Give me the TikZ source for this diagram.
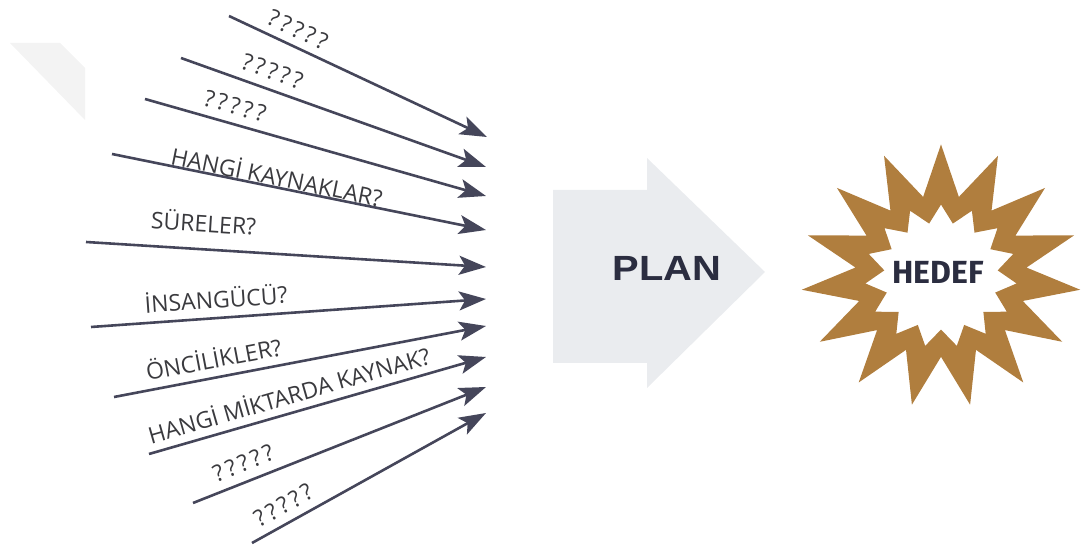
\documentclass[tikz,border=0pt]{standalone}
\usepackage{fontspec}
\setmainfont{Open Sans}
\newfontfamily\plfont{Liberation Sans}
\newfontfamily\hdfont{Fira Sans}
\newfontfamily\qmfont[LetterSpace=15]{Open Sans}
\usepackage{graphicx}
\usetikzlibrary{arrows.meta}
\definecolor{arrowcol}{HTML}{45465A}
\definecolor{txtcol}{HTML}{3A3A3E}
\definecolor{plangray}{HTML}{EAECEF}
\definecolor{starbrown}{HTML}{B07E3E}
\definecolor{marktxt}{HTML}{2B2D40}
\definecolor{ghost}{HTML}{F3F3F3}
\begin{document}
\begin{tikzpicture}[x=0.5pt,y=-0.5pt,
  arr/.style={draw=arrowcol, line width=1.3pt, -{Stealth[length=13.5pt,width=9.5pt,inset=3pt]}},
  lbl/.style={sloped, text=txtcol, font=\fontsize{11.5}{13}\selectfont, inner sep=0pt, anchor=center},
  qm/.style={lbl, font=\qmfont\fontsize{11.5}{13}\selectfont}
]
\useasboundingbox (0,0) rectangle (1088,549);
% faint mark top left
\fill[ghost] (10,43) -- (60,43) -- (85,68) -- (85,120) -- cycle;

% arrow coordinates
\coordinate (s1) at (229,16);  \coordinate (e1) at (487,137);
\coordinate (s2) at (181,58);  \coordinate (e2) at (486,167);
\coordinate (s3) at (145,99);  \coordinate (e3) at (486,196);
\coordinate (s4) at (112,154); \coordinate (e4) at (486,230);
\coordinate (s5) at (86,242);  \coordinate (e5) at (486,267);
\coordinate (s6) at (91,327);  \coordinate (e6) at (486,299);
\coordinate (s7) at (114,397); \coordinate (e7) at (486,326);
\coordinate (s8) at (149,454); \coordinate (e8) at (486,357);
\coordinate (s9) at (193,503); \coordinate (e9) at (486,387);
\coordinate (s10) at (252,543); \coordinate (e10) at (486,413);

\draw[arr] (s1) -- node[qm, pos=0.24, yshift=8.3pt] (l1) {?????} (e1);
\draw[arr] (s2) -- node[qm, pos=0.28, yshift=9.2pt] (l2) {?????} (e2);
\draw[arr] (s3) -- node[qm, pos=0.25, yshift=9pt] (l3) {?????} (e3);
\draw[arr] (s4) -- node[lbl, pos=0.435, yshift=5.8pt] (l4) {HANGİ KAYNAKLAR?} (e4);
\draw[arr] (s5) -- node[lbl, pos=0.29, yshift=13.6pt] (l5) {SÜRELER?} (e5);
\draw[arr] (s6) -- node[lbl, pos=0.32, yshift=10pt] (l6) {İNSANGÜCÜ?} (e6);
\draw[arr] (s7) -- node[lbl, pos=0.277, yshift=9.8pt] (l7) {ÖNCİLİKLER?} (e7);
\draw[arr] (s8) -- node[lbl, pos=0.43, yshift=9.5pt] (l8) {HANGİ MİKTARDA KAYNAK?} (e8);
\draw[arr] (s9) -- node[qm, pos=0.195, yshift=9.3pt] (l9) {?????} (e9);
\draw[arr] (s10) -- node[qm, pos=0.171, yshift=9pt] (l10) {?????} (e10);

% PLAN block arrow
\fill[plangray] (553,190) -- (647,190) -- (647,158) -- (765,272) -- (647,388) -- (647,363) -- (553,363) -- cycle;
\node[text=marktxt, font=\plfont\bfseries\fontsize{17.5}{20}\selectfont, inner sep=0pt] (plan) at (667,268) {\scalebox{1.14}[1]{PLAN}};

% HEDEF star ring
\fill[starbrown, even odd rule]
  ({941+140*cos(90)},{276-0.94*140*sin(90)})
  \foreach \k in {0,...,14}{
    -- ({941+86*cos(102+24*\k)},{276-0.94*86*sin(102+24*\k)})
    -- ({941+140*cos(114+24*\k)},{276-0.94*140*sin(114+24*\k)})
  } -- cycle
  ({941+76*cos(90)},{276-0.94*76*sin(90)})
  \foreach \k in {0,...,14}{
    -- ({941+57*cos(102+24*\k)},{276-0.94*57*sin(102+24*\k)})
    -- ({941+76*cos(114+24*\k)},{276-0.94*76*sin(114+24*\k)})
  } -- cycle;
\node[text=marktxt, font=\hdfont\bfseries\fontsize{16}{19}\selectfont, inner sep=0pt] (hedef) at (938,272) {HEDEF};
\end{tikzpicture}
\end{document}
